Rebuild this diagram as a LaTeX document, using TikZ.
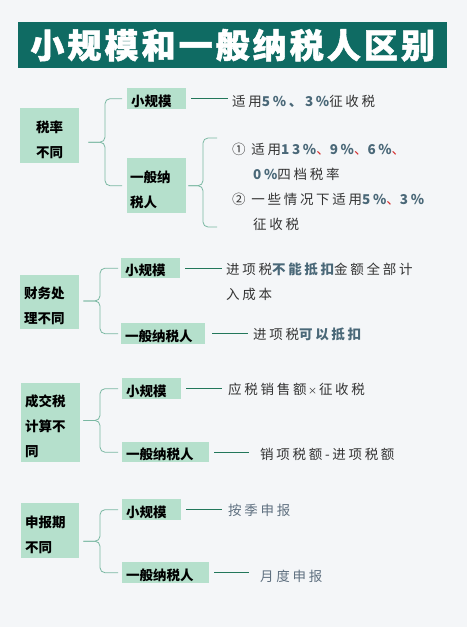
\documentclass[tikz,border=0pt]{standalone}
\usepackage{fontspec}
\setmainfont{Noto Sans CJK SC}
\newfontfamily\spaced[LetterSpace=20]{Noto Sans CJK SC}
\newfontfamily\titlefont[LetterSpace=9, BoldFeatures={FakeBold=1.5}]{Noto Sans CJK SC}
\usetikzlibrary{calc}
\definecolor{bgc}{HTML}{F4F6F8}
\definecolor{titlebg}{HTML}{0F6B63}
\definecolor{boxfill}{HTML}{B5E0CC}
\definecolor{bracec}{HTML}{7AB8A2}
\definecolor{linkc}{HTML}{22775A}
\definecolor{txt}{HTML}{333333}
\definecolor{slate}{HTML}{4A6878}
\definecolor{redc}{HTML}{D42A2A}
\definecolor{soft}{HTML}{5F7080}
\newcommand\hl[1]{\textcolor{slate}{\bfseries #1}}
\newcommand\rc{\textcolor{redc}{、}}
\newcommand\smalltimes{\hspace{1.5pt}{\fontsize{9}{9}\selectfont ×}\hspace{2pt}}
\tikzset{
  labelbox/.style={fill=boxfill, anchor=north west, inner sep=0pt},
  labeltext/.style={anchor=west, inner sep=0pt, align=left, text=black,
    font=\fontsize{13.5}{25}\selectfont\bfseries},
  bodytext/.style={anchor=base west, inner sep=0pt, text=txt, align=left,
    font=\fontsize{13.5}{24.5}\selectfont\spaced},
  bracestyle/.style={draw=bracec, line width=0.8pt, rounded corners=5pt},
  linkstyle/.style={draw=linkc, line width=1.4pt, shorten <=5pt}
}
\begin{document}
\begin{tikzpicture}[x=1pt,y=-1pt]
\fill[bgc] (0,0) rectangle (467,627);
\useasboundingbox (0,0) rectangle (467,627);

% title
\node[fill=titlebg, anchor=north west, minimum width=429pt, minimum height=46pt, inner sep=0pt,
  text=white, font=\fontsize{34}{34}\selectfont\titlefont\bfseries] (title) at (18,22) {小规模和一般纳税人区别};

% ---------- section 1 ----------
\node[labelbox, minimum width=59pt, minimum height=55pt] (r1) at (20,108) {};
\node[labeltext, align=center, text width=59pt] (r1t) at ($(r1.west)+(0,4)$) {税率\\不同};
\node[labelbox, minimum width=59pt, minimum height=21pt] (c11) at (127,88) {};
\node[labeltext] (c11t) at ($(c11.west)+(4,2.5)$) {小规模};
\node[labelbox, minimum width=59pt, minimum height=55pt] (c12) at (127,158) {};
\node[labeltext] (c12t) at ($(c12.west)+(3,4.5)$) {一般纳\\税人};
\coordinate (j1) at ($(c11.west)!.5!(c12.west)$);
\coordinate (v1) at (105,0);
\draw[bracestyle, shorten <=9pt, shorten >=5pt] (r1.east |- j1) -- (v1 |- j1) |- (c11.west);
\draw[bracestyle, shorten <=9pt, shorten >=5pt] (r1.east |- j1) -- (v1 |- j1) |- (c12.west);

\node[bodytext] (t11) at (232,106) {适用\hl{5\%、3\%}征收税};
\draw[linkstyle, shorten >=4pt] (c11.east) -- (c11.east -| t11.west);

\node[bodytext] (t12a) at (232,179) {①\ 适用\hl{13\%}\rc\hl{9\%}\rc\hl{6\%}\rc\\\hspace*{21pt}\hl{0\%}四档税率};
\node[bodytext] (t12b) at (232,229) {②\ 一些情况下适用\hl{5\%}\rc\hl{3\%}\\\hspace*{21pt}征收税};
\coordinate (b1t) at (217,138);
\coordinate (b1b) at (217,227);
\coordinate (v12) at (203,0);
\draw[bracestyle, shorten <=2pt] (c12.east) -- (v12 |- c12.east) |- (b1t);
\draw[bracestyle, shorten <=2pt] (c12.east) -- (v12 |- c12.east) |- (b1b);

% ---------- section 2 ----------
\node[labelbox, minimum width=59pt, minimum height=54pt] (r2) at (20,275) {};
\node[labeltext] (r2t) at ($(r2.west)+(4,4)$) {财务处\\理不同};
\node[labelbox, minimum width=59pt, minimum height=20pt] (c21) at (121,258) {};
\node[labeltext] (c21t) at ($(c21.west)+(4,2.5)$) {小规模};
\node[labelbox, minimum width=84pt, minimum height=21pt] (c22) at (121,323) {};
\node[labeltext] (c22t) at ($(c22.west)+(4,2.5)$) {一般纳税人};
\coordinate (j2) at ($(c21.west)!.5!(c22.west)$);
\coordinate (v2) at (100,0);
\draw[bracestyle, shorten <=4pt, shorten >=3pt] (r2.east |- j2) -- (v2 |- j2) |- (c21.west);
\draw[bracestyle, shorten <=4pt, shorten >=3pt] (r2.east |- j2) -- (v2 |- j2) |- (c22.west);
\node[bodytext] (t21) at (226,299) {进项税\hl{不能抵扣}金额全部计\\入成本};
\draw[linkstyle, shorten >=4pt] (c21.east) -- (c21.east -| t21.west);
\node[bodytext] (t22) at (253,339) {进项税\hl{可以抵扣}};
\draw[linkstyle, shorten <=7pt, shorten >=5pt] (c22.east) -- (c22.east -| t22.west);

% ---------- section 3 ----------
\node[labelbox, minimum width=59pt, minimum height=79pt] (r3) at (21,383) {};
\node[labeltext] (r3t) at ($(r3.west)+(4,4)$) {成交税\\计算不\\同};
\node[labelbox, minimum width=59pt, minimum height=21pt] (c31) at (122,378) {};
\node[labeltext] (c31t) at ($(c31.west)+(4,2.5)$) {小规模};
\node[labelbox, minimum width=87pt, minimum height=20pt] (c32) at (122,442) {};
\node[labeltext] (c32t) at ($(c32.west)+(4,2.5)$) {一般纳税人};
\coordinate (j3) at ($(c31.west)!.5!(c32.west)$);
\coordinate (v3) at (100,0);
\draw[bracestyle, shorten <=3pt, shorten >=4pt] (r3.east |- j3) -- (v3 |- j3) |- (c31.west);
\draw[bracestyle, shorten <=3pt, shorten >=4pt] (r3.east |- j3) -- (v3 |- j3) |- (c32.west);
\node[bodytext] (t31) at (228,394) {应税销售额\smalltimes 征收税};
\draw[linkstyle, shorten >=6pt] (c31.east) -- (c31.east -| t31.west);
\node[bodytext] (t32) at (260,459) {销项税额-进项税额};
\draw[linkstyle, shorten >=11pt] (c32.east) -- (c32.east -| t32.west);

% ---------- section 4 ----------
\node[labelbox, minimum width=58pt, minimum height=55pt] (r4) at (21,503) {};
\node[labeltext] (r4t) at ($(r4.west)+(4,4)$) {申报期\\不同};
\node[labelbox, minimum width=59pt, minimum height=21pt] (c41) at (122,499) {};
\node[labeltext] (c41t) at ($(c41.west)+(4,2.5)$) {小规模};
\node[labelbox, minimum width=87pt, minimum height=21pt] (c42) at (122,562) {};
\node[labeltext] (c42t) at ($(c42.west)+(4,2.5)$) {一般纳税人};
\coordinate (j4) at ($(c41.west)!.5!(c42.west)$);
\coordinate (v4) at (100,0);
\draw[bracestyle, shorten <=4pt, shorten >=4pt] (r4.east |- j4) -- (v4 |- j4) |- (c41.west);
\draw[bracestyle, shorten <=4pt, shorten >=4pt] (r4.east |- j4) -- (v4 |- j4) |- (c42.west);
\node[bodytext, text=soft] (t41) at (228,515) {按季申报};
\draw[linkstyle, shorten >=6pt] (c41.east) -- (c41.east -| t41.west);
\node[bodytext, text=soft] (t42) at (260,581) {月度申报};
\draw[linkstyle, shorten >=11pt] (c42.east) -- (c42.east -| t42.west);
\end{tikzpicture}
\end{document}
